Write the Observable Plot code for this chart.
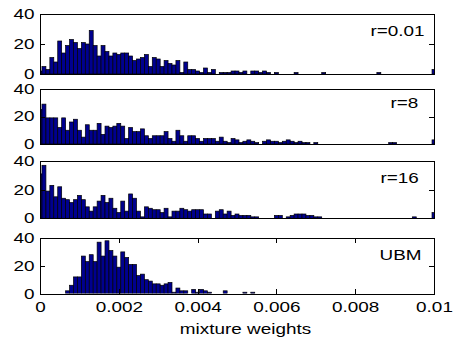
<!DOCTYPE html>
<html><head><meta charset="utf-8">
<script src="https://cdn.jsdelivr.net/npm/d3@7"></script>
<script src="https://cdn.jsdelivr.net/npm/@observablehq/plot@0.6"></script>
<style>
html,body{margin:0;padding:0;background:#fff;}
#chart{position:relative;width:456px;height:338px;overflow:hidden;background:#fff;}
#chart svg{position:absolute;left:0;overflow:visible;}
</style></head><body><div id="chart"></div>
<script>
// histogram bins: centres at k * binWidth, k = 0..100
const binWidth = 0.0001;
const countsR001 = [
  2,5,3,11,8,22,14,19,23,21,
  17,21,20,29,19,12,19,15,12,14,
  13,14,14,12,9,10,11,13,5,11,
  10,5,9,7,6,9,1,8,3,3,
  2,1,4,1,3,0,1,1,1,2,
  2,1,2,0,2,2,1,2,1,0,
  1,0,0,0,0,1,0,0,0,0,
  0,0,1,0,0,0,0,0,0,0,
  0,0,0,0,0,0,1,0,0,0,
  0,0,0,0,0,0,0,0,0,0,
  3];
const countsR8 = [
  25,29,19,19,19,12,19,10,16,18,
  10,5,14,10,10,15,7,13,12,13,
  15,13,4,12,9,9,11,6,4,6,
  6,6,9,4,2,10,6,2,6,6,
  4,2,4,4,4,2,5,2,1,4,
  3,1,2,3,2,1,0,2,3,2,
  2,1,2,3,2,1,2,1,1,0,
  1,0,0,0,0,0,0,0,0,0,
  0,0,0,0,0,0,0,0,0,1,
  1,0,0,0,0,0,0,0,0,0,
  3];
const countsR16 = [
  31,37,19,23,15,22,14,13,11,13,
  16,13,8,5,8,12,16,11,14,7,
  4,12,5,17,14,5,1,8,7,6,
  6,4,7,1,5,5,7,6,5,6,
  6,6,3,3,0,5,6,3,5,2,
  3,2,2,2,1,1,0,0,0,0,
  2,2,0,1,2,3,3,3,2,2,
  1,1,0,0,0,0,0,0,0,0,
  0,0,0,0,0,0,0,0,0,0,
  0,0,0,0,0,1,0,0,0,0,
  4];
const countsUBM = [
  0,0,0,0,0,0,0,2,6,12,
  12,27,23,28,23,37,27,38,31,27,
  19,30,26,21,21,13,14,10,9,7,
  7,6,7,8,1,4,2,2,0,3,
  1,3,2,1,0,0,0,2,0,0,
  0,0,1,0,1,0,0,0,0,0,
  0,0,0,0,0,0,0,0,0,0,
  0,0,0,0,0,0,0,0,0,0,
  0,0,0,0,0,0,0,0,0,0,
  0,0,0,0,0,0,0,0,0,0,
  0];
const panelLabels = ["r=0.01", "r=8", "r=16", "UBM"];
const yTicks = [0, 20, 40];
const yTickLabels = ["0", "20", "40"];
const xTicks = [0, 0.002, 0.004, 0.006, 0.008, 0.01];
const xTickLabels = ["0", "0.002", "0.004", "0.006", "0.008", "0.01"];
const xLabel = "mixture weights";

// layout (pixels)
const W = 456, H = 338, ML = 40, MR = 22;
const innerW = W - ML - MR;
const FONT = "'Liberation Sans', Arial, Helvetica, sans-serif";
const FS = 14;
const STRETCH = 1.35;
const layout = [
  {top: 14,   bottom: 74,    lx: 370, ly: 31},
  {top: 89,   bottom: 144,   lx: 390, ly: 103},
  {top: 161,  bottom: 218.3, lx: 380, ly: 178.5},
  {top: 237.7,bottom: 293.3, lx: 379, ly: 254.5}
];
const allCounts = [countsR001, countsR8, countsR16, countsUBM];

const root = document.getElementById("chart");
allCounts.forEach((counts, p) => {
  const L = layout[p];
  const last = p === 3;
  const mt = 8;
  const mb = last ? H - L.bottom : 8;
  const ih = L.bottom - L.top;
  const height = ih + mt + mb;
  const bins = counts.map((n, k) => ({x0: (k - 0.5) * binWidth, x1: (k + 0.5) * binWidth, n})).filter(d => d.n > 0);
  const marks = [
    Plot.rectY(bins, {x1: "x0", x2: "x1", y: "n", fill: "#00008f", stroke: "black", strokeWidth: 0.7, clip: true}),
    Plot.tickY(yTicks, {stroke: "black", insetRight: innerW - 5, shapeRendering: "crispEdges"}),
    Plot.tickY(yTicks, {stroke: "black", insetLeft: innerW - 5, shapeRendering: "crispEdges"}),
    Plot.axisY({ticks: yTicks, tickSize: 0, tickPadding: 6, label: null,
      tickFormat: d => yTickLabels[yTicks.indexOf(d)]}),
    Plot.frame({stroke: "black", strokeWidth: 1, shapeRendering: "crispEdges"}),
    Plot.text([panelLabels[p]], {frameAnchor: "top-left", dx: L.lx - ML, dy: L.ly - L.top,
      textAnchor: "start", lineAnchor: "middle", fontSize: FS, fill: "black"})
  ];
  if (last) {
    marks.push(
      Plot.tickX(xTicks, {stroke: "black", insetTop: ih - 5, shapeRendering: "crispEdges"}),
      Plot.tickX(xTicks, {stroke: "black", insetBottom: ih - 5, shapeRendering: "crispEdges"}),
      Plot.axisX({ticks: xTicks, tickSize: 0, tickPadding: 8, label: null,
        tickFormat: d => xTickLabels[xTicks.indexOf(d)]}),
      Plot.text([xLabel], {frameAnchor: "bottom", dx: 8, dy: 35.5, lineAnchor: "middle", fontSize: FS, fill: "black"})
    );
  }
  const svg = Plot.plot({
    width: W, height,
    marginLeft: ML, marginRight: MR, marginTop: mt, marginBottom: mb,
    x: {domain: [0, 0.01], axis: last ? undefined : null},
    y: {domain: [0, 40]},
    style: {fontFamily: FONT, fontSize: FS + "px", color: "black", background: "transparent", overflow: "visible"},
    marks
  });
  svg.style.top = (L.top - mt) + "px";
  svg.querySelectorAll("text").forEach(t => {
    const tr = t.getAttribute("transform") || "";
    t.setAttribute("transform", tr + ` scale(${STRETCH},1)`);
  });
  root.appendChild(svg);
});
</script></body></html>
